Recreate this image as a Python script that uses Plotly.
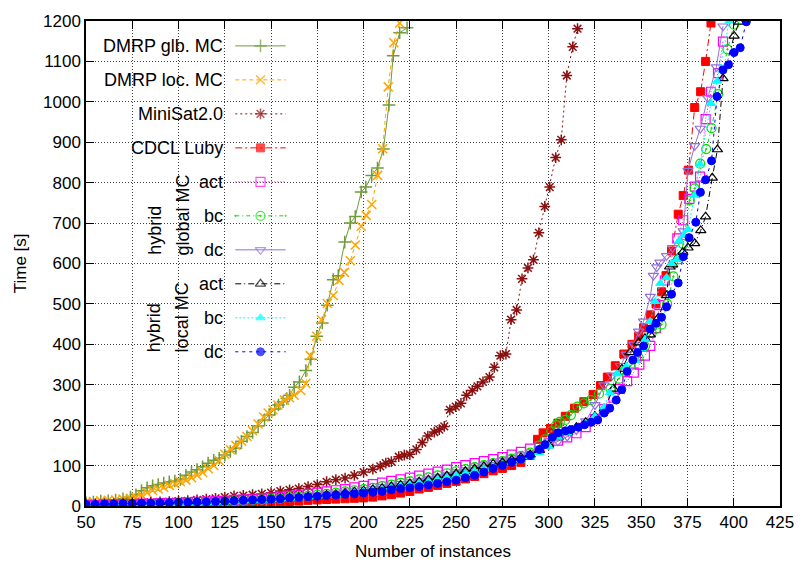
import plotly.graph_objects as go

# ---------------- data ----------------
glb_x = [50, 54, 58, 62, 66, 70, 74, 77, 80, 83, 86, 89, 92, 95, 98, 101, 104, 107, 110, 113, 116, 119, 122, 125,
         128, 131, 134, 137, 140, 143, 146.5, 149, 152, 154, 156.5, 158.5, 160, 162.5, 165.3, 168.8, 171.5, 174.7,
         177.7, 180.4, 183.6, 186.3, 189.8, 192.8, 195.5, 198.7, 201.2, 204.4, 207.5, 210.7, 213.7, 216, 219.5, 223.5]
glb_y = [8, 10, 12, 13, 15, 18, 22, 28, 38, 45, 50, 53, 57, 60, 62, 66, 76, 84, 90, 97, 106, 113, 118, 126,
         135, 143, 160, 172, 182, 198, 213, 225, 240, 250, 258, 266, 274, 294, 307, 335, 363, 420,
         453, 497, 560, 570, 653, 700, 716, 777, 789, 818, 836, 883, 992, 1114, 1171, 1183]

loc_x = [50, 54, 58, 62, 66, 70, 74, 77, 80, 83, 86, 89, 92, 95, 98, 101, 104, 107, 110, 113, 116, 119, 122, 125,
         128, 131, 134, 137, 140, 143, 146, 148.4, 151, 153.7, 157.3, 160, 162.5, 166.1, 168.8, 171.2, 174.7, 177.3,
         180.4, 183.6, 186.7, 189.6, 192.8, 195.5, 198.7, 201.4, 204.4, 207.6, 210.3, 213.3, 216.3, 219.5]
loc_y = [10, 11, 13, 14, 15, 17, 19, 22, 27, 33, 39, 42, 46, 51, 55, 60, 64, 70, 76, 83, 92, 100, 112, 128,
         140, 150, 161, 172, 186, 203, 220, 230, 238, 250, 262, 268, 274, 286, 303, 372, 420, 461,
         501, 521, 558, 578, 607, 646, 692, 719, 746, 818, 884, 1037, 1146, 1195]

ms_x = [50, 55, 60, 65, 70, 75, 80, 85, 90, 95, 100, 105, 110, 115, 120, 125, 130, 135, 140, 145, 150, 155, 160,
        165, 170, 175, 180, 185, 190, 195, 200, 205, 209, 212, 215, 219, 222, 225, 228.5, 231.7, 234.7, 238.2,
        240.9, 243.6, 246.6, 249.8, 252.6, 255.6, 258.7, 261.5, 264.5, 268, 270.6, 273.9, 276.9, 279.7, 282.7,
        285.6, 288.8, 291.8, 294.7, 297.9, 300.6, 303.8, 306.8, 309.8, 313, 315.6]
ms_y = [5, 5, 6, 6, 7, 8, 8, 9, 10, 11, 12, 13, 15, 17, 19, 22, 25, 26, 28, 30, 33, 37, 40,
        43, 48, 53, 60, 65, 69, 76, 84, 91, 98, 106, 110, 122, 126, 128, 140, 157, 173, 183,
        189, 197, 238, 246, 254, 274, 286, 296, 307, 319, 343, 372, 376, 461, 485,
        562, 589, 609, 676, 741, 789, 862, 906, 1065, 1136, 1181]

low_x = [50, 55, 60, 65, 70, 75, 80, 85, 90, 95, 100, 105, 110, 115, 120, 125, 130, 135, 140, 145, 150, 155,
         160, 165, 170, 175, 180, 185, 190, 195, 200, 205, 210, 215, 220, 225, 230, 235, 240, 245, 250, 255,
         260, 265, 270, 275, 280, 285]

luby_low = [1, 1, 1, 1, 2, 2, 2, 2, 3, 3, 3, 3, 4, 4, 5, 5, 6, 6, 7, 8, 9, 10,
            11, 12, 14, 15, 16, 17, 18, 19, 20, 22, 25, 28, 32, 36, 42, 46, 51, 56, 61, 67,
            73, 80, 87, 93, 100, 108]
luby_up_x = [290, 294, 297, 301, 305, 309, 314, 319, 324, 328, 331.7, 336, 340.6, 345, 348.6, 351.3, 354.9,
             358, 361, 363.4, 366.4, 370, 372.7, 375.5, 378.9, 382.1, 384.8, 387.7]
luby_up_y = [125, 165, 181, 192, 205, 222, 242, 258, 276, 298, 319, 347, 376, 400, 420, 441, 473,
             500, 530, 570, 631, 722, 768, 831, 986, 1025, 1100, 1195]

actg_low = [3, 3, 4, 4, 5, 5, 6, 6, 7, 7, 8, 9, 10, 11, 12, 13, 15, 16, 18, 19, 21, 23,
            25, 28, 30, 33, 36, 39, 42, 46, 50, 54, 58, 62, 66, 70, 75, 80, 85, 90, 96, 101,
            106, 111, 116, 121, 127, 134]
actg_up_x = [290, 295, 300, 305, 310, 315, 320, 325, 330, 335, 338.5, 342.4, 346, 349, 352, 354.9, 358,
             359.8, 362.8, 369.5, 372.7, 376, 379, 381.8, 384.8, 387.7, 391.5, 394.2]
actg_up_y = [142, 148, 155, 162, 170, 180, 195, 215, 240, 268, 290, 309, 330, 350, 372, 396, 440,
             497, 558, 662, 707, 760, 790, 815, 957, 1025, 1071, 1149]

bcg_low = [2, 2, 3, 3, 4, 4, 5, 5, 6, 6, 7, 8, 8, 9, 10, 11, 12, 13, 15, 16, 18, 19,
           21, 23, 25, 28, 30, 33, 36, 39, 42, 45, 49, 53, 57, 61, 66, 71, 76, 81, 86, 91,
           96, 101, 106, 111, 117, 124]
bcg_up_x = [290, 295, 298, 301.4, 304, 306, 309, 312, 315.6, 319, 322.7, 327.2, 333.4, 338, 341, 344.2,
            348.6, 352, 355.7, 358, 361, 364, 367.4, 370, 372.7, 376.2, 378.9, 381.9, 385.1, 388, 391.5,
            396.6, 400.2]
bcg_up_y = [132, 150, 165, 185, 200, 208, 213, 225, 246, 254, 262, 278, 290, 315, 335, 347,
            367, 395, 428, 438, 449, 500, 568, 610, 648, 756, 786, 847, 883, 935, 1019,
            1130, 1191]

dcg_low = [2, 2, 3, 3, 3, 4, 4, 5, 5, 6, 7, 7, 8, 9, 10, 11, 12, 13, 14, 15, 17, 18,
           20, 22, 24, 26, 29, 31, 34, 37, 40, 43, 47, 51, 55, 59, 63, 68, 73, 78, 84, 89,
           95, 101, 107, 113, 119, 126]
dcg_up_x = [290, 295, 300, 305, 310, 315, 320, 325, 329.9, 334.3, 338.8, 342, 346, 348.6, 351.3, 354.9,
            356.6, 358.4, 360.1, 363.7, 366.9, 372.7, 375.3, 378.9, 381.9, 386, 390.6, 394.2]
dcg_up_y = [133, 141, 150, 160, 172, 188, 210, 250, 299, 323, 347, 375, 400, 432, 457, 518,
            570, 591, 603, 619, 639, 680, 830, 891, 934, 1010, 1086, 1187]

actl_low = [3, 3, 3, 4, 4, 5, 5, 6, 6, 7, 7, 8, 9, 9, 10, 11, 12, 13, 14, 15, 16, 18,
            19, 21, 23, 25, 27, 29, 32, 35, 38, 41, 44, 48, 52, 56, 60, 65, 70, 75, 80, 86,
            92, 98, 104, 108, 114, 120]
actl_up_x = [290, 295, 300, 305, 310, 315, 320, 325, 330, 335, 339.6, 344, 348.6, 352, 354.9, 359.2,
             363.7, 365.4, 367, 370, 372.5, 375.3, 378.9, 382.2, 384.8, 388.4, 391.2, 394.2, 400.2, 402.9]
actl_up_y = [127, 138, 152, 170, 182, 195, 207, 222, 240, 290, 339, 380, 404, 415, 424, 465,
             521, 592, 597, 615, 628, 639, 650, 682, 716, 812, 882, 1058, 1163, 1198]

bcl_low = [2, 2, 3, 3, 3, 4, 4, 5, 5, 6, 6, 7, 7, 8, 9, 10, 11, 12, 13, 14, 15, 17,
           18, 20, 22, 24, 26, 28, 30, 33, 36, 38, 41, 45, 49, 52, 56, 60, 65, 70, 75, 80,
           86, 91, 97, 102, 108, 114]
bcl_up_x = [290, 295, 300, 305, 310, 315, 320, 325, 330, 333, 336.9, 342, 346.8, 350, 352.2, 354.9,
            357.5, 360.3, 363.7, 366.4, 369, 370.5, 373, 375.3, 378.9, 381.7, 387.7, 391, 397.7]
bcl_up_y = [122, 132, 148, 170, 182, 193, 205, 222, 245, 280, 327, 345, 360, 390, 412, 457,
            506, 551, 565, 600, 610, 656, 670, 684, 769, 846, 996, 1051, 1200]

dcl_low = [4, 4, 5, 5, 6, 6, 7, 7, 8, 8, 9, 9, 10, 10, 11, 12, 13, 14, 15, 16, 17, 18,
           20, 21, 23, 24, 26, 27, 29, 30, 32, 34, 36, 40, 43, 45, 48, 52, 56, 60, 64, 70,
           76, 84, 93, 100, 108, 116]
dcl_up_x = [290, 295, 298, 302, 305, 309, 312, 316, 319.4, 323, 326.5, 330, 333, 336.5, 339.5, 342.4,
            345.5, 348, 351.3, 354.9, 358, 361, 363.7, 366.4, 370, 372.7, 375.9, 379.5, 382, 384.8, 388,
            391, 394.2, 397.2, 400.2, 403.5, 406.8]
dcl_up_y = [125, 140, 152, 170, 181, 186, 189, 195, 201, 207, 213, 230, 242, 262, 288, 333,
            361, 380, 396, 438, 452, 467, 493, 524, 552, 617, 664, 702, 776, 807, 854,
            1013, 1079, 1092, 1122, 1134, 1198]

names = ["DMRP glb. MC", "DMRP loc. MC", "MiniSat2.0", "CDCL Luby",
         "act", "bc", "dc", "act", "bc", "dc"]
group_labels = [("hybrid", "global MC"), ("hybrid", "local MC")]
x_ticks = list(range(50, 426, 25))
y_ticks = list(range(0, 1201, 100))

# ---------------- styles ----------------
FONT = "Liberation Sans, Arial, sans-serif"
styles = [
    dict(color="#6f9b3c", dash="solid", symbol="cross-thin-open", size=9, lw=1.5),
    dict(color="#ffa500", dash="4px,3px", symbol="x-thin-open", size=9, lw=1.5),
    dict(color="#8b1111", dash="2px,3px", symbol="asterisk-open", size=9, lw=1.5),
    dict(color="#ff0000", dash="7px,3px,2px,3px", symbol="square", size=8, lw=1),
    dict(color="#ff00ff", dash="1px,2px", symbol="square-open", size=9, lw=1.2),
    dict(color="#00dd00", dash="4px,3px,1px,3px", symbol="circle-open-dot", size=9, lw=1.2),
    dict(color="#9370db", dash="solid", symbol="triangle-down-open", size=9, lw=1.2),
    dict(color="#000000", dash="6px,3px,1px,3px", symbol="triangle-up-open", size=9, lw=1.2),
    dict(color="#00ffff", dash="2px,2px", symbol="triangle-up", size=8, lw=1),
    dict(color="#0000ff", dash="3px,4px", symbol="circle", size=8, lw=1),
]

series = [
    (glb_x, glb_y),
    (loc_x, loc_y),
    (ms_x, ms_y),
    (low_x + luby_up_x, luby_low + luby_up_y),
    (low_x + actg_up_x, actg_low + actg_up_y),
    (low_x + bcg_up_x, bcg_low + bcg_up_y),
    (low_x + dcg_up_x, dcg_low + dcg_up_y),
    (low_x + actl_up_x, actl_low + actl_up_y),
    (low_x + bcl_up_x, bcl_low + bcl_up_y),
    (low_x + dcl_up_x, dcl_low + dcl_up_y),
]

fig = go.Figure()
for (xs, ys), st, nm in zip(series, styles, names):
    fig.add_trace(go.Scatter(
        x=xs, y=ys, mode="lines+markers", name=nm, showlegend=False, cliponaxis=True,
        line=dict(color=st["color"], width=1, dash=st["dash"]),
        marker=dict(symbol=st["symbol"], size=st["size"], color=st["color"],
                    line=dict(color=st["color"], width=st["lw"])),
    ))

# ---------------- layout geometry (pixels) ----------------
W, H = 806, 563
L, R, T, B = 86, 788, 13, 506
pw, ph = R - L, B - T


def px2paper_x(px):
    return (px - L) / pw


def px2paper_y(py):
    return (B - py) / ph


# legend samples drawn on an overlay axis with a 0..1 range
leg_y_px = [38.3 + 34.55 * i for i in range(10)]
sx0, sxm, sx1 = px2paper_x(237), px2paper_x(262.5), px2paper_x(288)
for i, (st, nm) in enumerate(zip(styles, names)):
    yy = px2paper_y(leg_y_px[i])
    fig.add_trace(go.Scatter(
        x=[sx0, sxm, sx1], y=[yy, yy, yy], xaxis="x2", yaxis="y2",
        mode="lines+markers", showlegend=False, hoverinfo="skip",
        line=dict(color=st["color"], width=1, dash=st["dash"]),
        marker=dict(symbol=st["symbol"], size=[0, st["size"], 0], color=st["color"],
                    line=dict(color=st["color"], width=st["lw"])),
    ))
    fig.add_annotation(x=px2paper_x(227), y=yy, xref="paper", yref="paper", text=nm,
                       showarrow=False, xanchor="right", yanchor="middle",
                       font=dict(family=FONT, size=18, color="black"))

# group labels (rotated)
for (a, b), bottom_px in zip(group_labels, [253, 352]):
    fig.add_annotation(x=px2paper_x(155), y=px2paper_y(bottom_px), xref="paper", yref="paper",
                       text=a, textangle=-90, showarrow=False, xanchor="center", yanchor="bottom",
                       font=dict(family=FONT, size=18, color="black"))
    fig.add_annotation(x=px2paper_x(184), y=px2paper_y(bottom_px), xref="paper", yref="paper",
                       text=b, textangle=-90, showarrow=False, xanchor="center", yanchor="bottom",
                       font=dict(family=FONT, size=18, color="black"))

# opaque key box hiding the grid
box = dict(type="rect", xref="paper", yref="paper", x0=0, x1=px2paper_x(299),
           y0=px2paper_y(366), y1=1, fillcolor="white", line=dict(width=0))
try:
    fig.add_shape(layer="between", **box)
except Exception:
    box["x0"] = px2paper_x(96)
    box["y1"] = px2paper_y(22)
    fig.add_shape(layer="above", **box)

# axis titles
fig.add_annotation(x=0.5, y=px2paper_y(552), xref="paper", yref="paper", text="Number of instances",
                   showarrow=False, xanchor="center", yanchor="middle",
                   font=dict(family=FONT, size=17, color="black"))
fig.add_annotation(x=px2paper_x(20), y=0.5, xref="paper", yref="paper", text="Time [s]",
                   textangle=-90, showarrow=False, xanchor="center", yanchor="middle",
                   font=dict(family=FONT, size=17, color="black"))

axis_common = dict(showline=True, linecolor="black", linewidth=1.5, mirror="allticks",
                   ticks="inside", ticklen=8, tickwidth=1, tickcolor="black",
                   showgrid=True, gridcolor="rgba(0,0,0,0.75)", gridwidth=1, griddash="1px,2px",
                   zeroline=False, tickfont=dict(family=FONT, size=17, color="black"))

fig.update_layout(
    width=W, height=H, margin=dict(l=L, r=W - R, t=T, b=H - B),
    paper_bgcolor="white", plot_bgcolor="white", showlegend=False,
    xaxis=dict(range=[50, 425], tickmode="array", tickvals=x_ticks, ticktext=[str(v) for v in x_ticks],
               **axis_common),
    yaxis=dict(range=[0, 1200], tickmode="array", tickvals=y_ticks, ticktext=[str(v) for v in y_ticks],
               **axis_common),
    xaxis2=dict(overlaying="x", range=[0, 1], visible=False, fixedrange=True),
    yaxis2=dict(overlaying="y", range=[0, 1], visible=False, fixedrange=True),
)

fig.write_html("out.html")
